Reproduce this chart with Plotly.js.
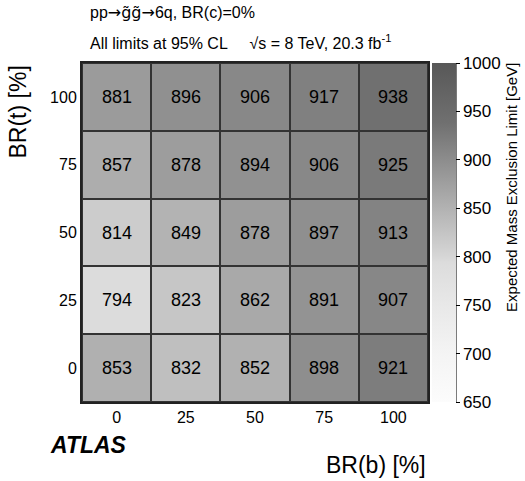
<!DOCTYPE html>
<html><head><meta charset="utf-8">
<script src="https://cdn.plot.ly/plotly-3.0.1.min.js"></script>
<style>body{margin:0;background:#fff}#c{width:525px;height:481px}</style>
</head><body><div id="c"></div>
<script>
const brB = ['0','25','50','75','100'];
const brT = ['0','25','50','75','100'];
const row0 = [853, 832, 852, 898, 921];
const row25 = [794, 823, 862, 891, 907];
const row50 = [814, 849, 878, 897, 913];
const row75 = [857, 878, 894, 906, 925];
const row100 = [881, 896, 906, 917, 938];
const zValues = [row0, row25, row50, row75, row100];
const cbTicks = [650, 700, 750, 800, 850, 900, 950, 1000];

function g(v){return 'rgb('+v+','+v+','+v+')';}
const scale = [[0,g(252)],[0.143,g(244)],[0.286,g(232)],[0.411,g(220)],[0.429,g(214)],[0.58,g(176)],[0.66,g(155)],[0.823,g(112)],[1,g(88)]];

const font = 'Liberation Sans, Arial, sans-serif';
const trace = {
  type:'heatmap', x:brB, y:brT, z:zValues,
  zmin:650, zmax:1000, colorscale:scale,
  xgap:2, ygap:2,
  texttemplate:'%{z}', textfont:{family:font,size:18,color:'#000'},
  hoverinfo:'skip',
  colorbar:{x:1.012, xanchor:'left', xpad:0, ypad:0, y:0.5, len:1, lenmode:'fraction',
    thickness:24, outlinewidth:0, tickvals:cbTicks, ticks:'outside', ticklen:4,
    tickcolor:'#000', tickfont:{family:font,size:17,color:'#000'}}
};
const layout = {
  width:525, height:481,
  margin:{l:82, r:97, t:63, b:79},
  paper_bgcolor:'#fff', plot_bgcolor:'#333',
  xaxis:{type:'category', showline:true, mirror:true, linecolor:'#222', linewidth:2, ticks:'', showgrid:false,
    tickfont:{family:font,size:16,color:'#000'}, zeroline:false},
  yaxis:{type:'category', showline:true, mirror:true, linecolor:'#222', linewidth:2, ticks:'', showgrid:false,
    tickfont:{family:font,size:16,color:'#000'}, zeroline:false},
  shapes:[{type:'line',xref:'paper',yref:'paper',x0:1.081,x1:1.081,y0:0,y1:1,line:{color:'#000',width:1}}],
  annotations:[
    {xref:'paper',yref:'paper',x:0.017,y:1.150,xanchor:'left',yanchor:'middle',showarrow:false,
     text:'pp<span style="font-family:DejaVu Sans">→g̃g̃→</span>6q, BR(c)=0%',font:{family:font,size:16,color:'#000'}},
    {xref:'paper',yref:'paper',x:0.017,y:1.062,xanchor:'left',yanchor:'middle',showarrow:false,
     text:'All limits at 95% CL     √s = 8 TeV, 20.3 fb<sup>-1</sup>',font:{family:font,size:16,color:'#000'}},
    {xref:'paper',yref:'paper',x:1.243,y:1.005,xanchor:'center',yanchor:'top',textangle:-90,showarrow:false,
     text:'Expected Mass Exclusion Limit [GeV]',font:{family:font,size:15,color:'#000'}},
    {xref:'paper',yref:'paper',x:-0.185,y:1.0,xanchor:'center',yanchor:'top',textangle:-90,showarrow:false,
     text:'BR(t) [%]',font:{family:font,size:23,color:'#000'}},
    {xref:'paper',yref:'paper',x:1.0,y:-0.185,xanchor:'right',yanchor:'middle',showarrow:false,
     text:'BR(b) [%]',font:{family:font,size:23,color:'#000'}},
    {xref:'paper',yref:'paper',x:-0.098,y:-0.128,xanchor:'left',yanchor:'middle',showarrow:false,
     text:'<b><i>ATLAS</i></b>',font:{family:font,size:23,color:'#000'}}
  ]
};
Plotly.newPlot('c',[trace],layout,{displayModeBar:false,staticPlot:true});
</script></body></html>
